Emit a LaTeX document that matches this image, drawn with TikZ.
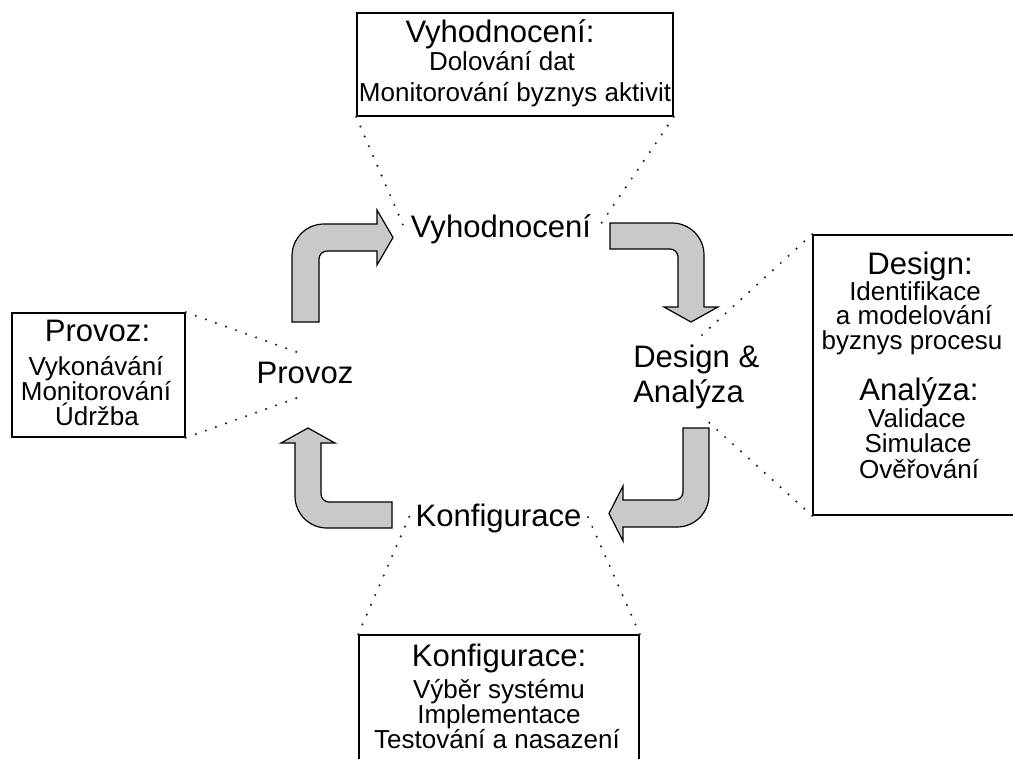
\documentclass[tikz,border=0pt]{standalone}
\usepackage{fontspec}
\setmainfont{Liberation Sans}
\usetikzlibrary{fit}
\begin{document}
\tikzset{
  box/.style={draw=black, line width=1.2pt, inner sep=0pt},
  head/.style={anchor=base, inner sep=0pt, font=\fontsize{23.3}{28}\selectfont},
  sub/.style={anchor=base, inner sep=0pt, font=\fontsize{19.5}{24}\selectfont},
  phase/.style={anchor=base, inner sep=0pt, font=\fontsize{23.3}{28}\selectfont},
  dots/.style={line width=1.8pt, line cap=round, dash pattern=on 0pt off 8pt, black!85},
  blockarrow/.style={fill=black!21, draw=black, line width=0.9pt, line join=miter},
}
\begin{tikzpicture}[x=0.75pt, y=-0.75pt]
  \useasboundingbox (0,0) rectangle (1013,758);
  \clip (0,0) rectangle (1013,758);

  % phase labels of the cycle
  \node[phase] (vyh) at (501,237) {Vyhodnocení};
  \node[phase, anchor=base west] (des) at (633,367) {Design \&};
  \node[phase, anchor=base west] (ana) at (633,402) {Analýza};
  \node[phase] (konf) at (498.5,526) {Konfigurace};
  \node[phase] (prov) at (305,383) {Provoz};

  % bent block arrows between the phases
  \draw[blockarrow] (292,322) -- (292,256) .. controls (292,238.3) and (306.3,224) .. (324,224)
    -- (377,224) -- (377,210) -- (393,237.5) -- (377,265) -- (377,251) -- (327,251)
    .. controls (322.6,251) and (319,254.6) .. (319,259) -- (319,322) -- cycle;
  \draw[blockarrow] (610,223) -- (672,223) .. controls (689.7,223) and (704,237.3) .. (704,255)
    -- (704,307) -- (718,307) -- (691,322) -- (664,307) -- (678,307) -- (678,257)
    .. controls (678,252.6) and (674.4,249) .. (670,249) -- (610,249) -- cycle;
  \draw[blockarrow] (683,428) -- (709,428) -- (709,495) .. controls (709,512.7) and (694.7,527) .. (677,527)
    -- (623,527) -- (623,541) -- (609,513.5) -- (623,486) -- (623,500) -- (675,500)
    .. controls (679.4,500) and (683,496.4) .. (683,492) -- cycle;
  \draw[blockarrow] (392,502) -- (392,528) -- (327,528) .. controls (309.3,528) and (295,513.7) .. (295,496)
    -- (295,443) -- (281,443) -- (308,428) -- (335,443) -- (321,443) -- (321,494)
    .. controls (321,498.4) and (324.6,502) .. (329,502) -- cycle;

  % detail boxes
  \node[box, fit={(357,13) (673,116)}] (topbox) {};
  \node[box, fit={(813,235) (1030,515)}] (rightbox) {};
  \node[box, fit={(359,635) (639,780)}] (botbox) {};
  \node[box, fit={(12,313) (185,437)}] (leftbox) {};

  % box texts
  \node[head] (th) at (500,42) {Vyhodnocení:};
  \node[sub] (t1) at (502,70) {Dolování dat};
  \node[sub] (t2) at (515,101) {Monitorování byznys aktivit};

  \node[head] (rh1) at (920,274) {Design:};
  \node[sub] (r1) at (915,300) {Identifikace};
  \node[sub] (r2) at (914,324) {a modelování};
  \node[sub] (r3) at (912,349) {byznys procesu};
  \node[head] (rh2) at (919,400) {Analýza:};
  \node[sub] (r4) at (917,427) {Validace};
  \node[sub] (r5) at (918,452) {Simulace};
  \node[sub] (r6) at (919,478) {Ověřování};

  \node[head] (bh) at (499,666) {Konfigurace:};
  \node[sub] (b1) at (499,698) {Výběr systému};
  \node[sub] (b2) at (499,723) {Implementace};
  \node[sub] (b3) at (497,748) {Testování a nasazení};

  \node[head] (lh) at (97.5,341) {Provoz:};
  \node[sub] (l1) at (96,375) {Vykonávání};
  \node[sub] (l2) at (96,400) {Monitorování};
  \node[sub] (l3) at (97,425) {Údržba};

  % dotted leaders from the boxes to the phase labels
  \coordinate (vyhL) at (403,225);
  \coordinate (vyhR) at (598,228);
  \coordinate (desT) at (702,335);
  \coordinate (anaB) at (704,418);
  \coordinate (konfL) at (410,515);
  \coordinate (konfR) at (588,517);
  \coordinate (provT) at (305,355);
  \coordinate (provB) at (305,395);
  \draw[dots] (topbox.south west) -- (vyhL);
  \draw[dots] (topbox.south east) -- (vyhR);
  \draw[dots] (rightbox.north west) -- (desT);
  \draw[dots] (rightbox.south west) -- (anaB);
  \draw[dots] (botbox.north west) -- (konfL);
  \draw[dots] (botbox.north east) -- (konfR);
  \draw[dots] (leftbox.north east) -- (provT);
  \draw[dots] (leftbox.south east) -- (provB);
\end{tikzpicture}
\end{document}
